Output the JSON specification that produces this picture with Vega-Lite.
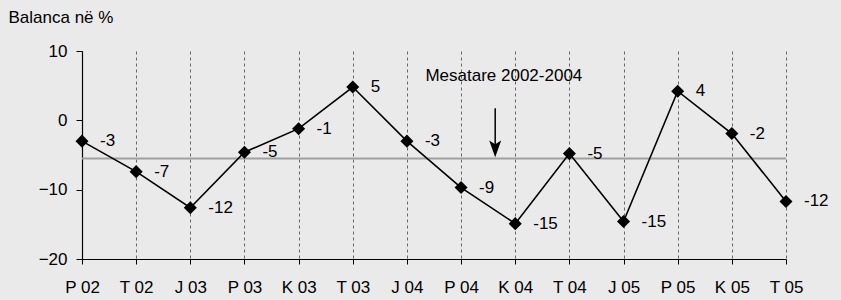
{
  "$schema": "https://vega.github.io/schema/vega-lite/v6.json",
  "autosize": "none",
  "width": 704,
  "height": 208,
  "padding": {"left": 82, "top": 51, "right": 55, "bottom": 41},
  "background": "#EAEAEA",
  "config": {
    "view": {"stroke": null},
    "font": "Liberation Sans",
    "axis": {"labelFont": "Liberation Sans", "titleFont": "Liberation Sans"}
  },
  "datasets": {
    "series": [
      {"i": 0, "q": "P 02", "v": -3.0, "label": "-3"},
      {"i": 1, "q": "T 02", "v": -7.4, "label": "-7"},
      {"i": 2, "q": "J 03", "v": -12.6, "label": "-12"},
      {"i": 3, "q": "P 03", "v": -4.6, "label": "-5"},
      {"i": 4, "q": "K 03", "v": -1.2, "label": "-1"},
      {"i": 5, "q": "T 03", "v": 4.8, "label": "5"},
      {"i": 6, "q": "J 04", "v": -3.0, "label": "-3"},
      {"i": 7, "q": "P 04", "v": -9.7, "label": "-9"},
      {"i": 8, "q": "K 04", "v": -14.9, "label": "-15"},
      {"i": 9, "q": "T 04", "v": -4.8, "label": "-5"},
      {"i": 10, "q": "J 05", "v": -14.6, "label": "-15"},
      {"i": 11, "q": "P 05", "v": 4.2, "label": "4"},
      {"i": 12, "q": "K 05", "v": -1.9, "label": "-2"},
      {"i": 13, "q": "T 05", "v": -11.7, "label": "-12"}
    ],
    "mean": [{"x0": 0, "x1": 13, "m": -5.5}],
    "arrow": [{"ax": 7.63, "top": 1.74, "bottom": -4.8, "head": -4.13, "txt": "Mesatare 2002-2004", "tx": 7.79, "ty": 6.35}]
  },
  "layer": [
    {
      "data": {"name": "mean"},
      "mark": {"type": "rule", "color": "#A0A0A0", "strokeWidth": 2},
      "encoding": {
        "x": {"field": "x0", "type": "quantitative", "scale": {"domain": [0, 13], "nice": false, "zero": false},
          "axis": {
            "values": [0,1,2,3,4,5,6,7,8,9,10,11,12,13],
            "labelExpr": "['P 02','T 02','J 03','P 03','K 03','T 03','J 04','P 04','K 04','T 04','J 05','P 05','K 05','T 05'][datum.value]",
            "title": null,
            "grid": true, "gridDash": [3, 3], "gridColor": "#666666", "gridWidth": 1,
            "domainColor": "#000000", "domainWidth": 1.2,
            "tickColor": "#000000", "tickSize": 5, "tickWidth": 1,
            "labelFontSize": 17, "labelColor": "#000000", "labelPadding": 15,
            "labelFlush": false
          }
        },
        "x2": {"field": "x1"},
        "y": {"field": "m", "type": "quantitative", "scale": {"domain": [-20, 10], "nice": false},
          "axis": {
            "values": [-20, -10, 0, 10],
            "grid": false,
            "title": "Balanca në %",
            "titleAngle": 0, "titleX": -74, "titleY": -34, "titleAlign": "left", "titleBaseline": "middle",
            "titleFontSize": 17, "titleFontWeight": "normal", "titleColor": "#000000",
            "domainColor": "#000000", "domainWidth": 1.2,
            "tickColor": "#000000", "tickSize": 6, "tickWidth": 1,
            "labelFontSize": 17, "labelColor": "#000000", "labelPadding": 9
          }
        }
      }
    },
    {
      "data": {"name": "series"},
      "mark": {"type": "line", "color": "#000000", "strokeWidth": 1.6},
      "encoding": {
        "x": {"field": "i", "type": "quantitative"},
        "y": {"field": "v", "type": "quantitative"}
      }
    },
    {
      "data": {"name": "series"},
      "mark": {"type": "point", "shape": "diamond", "filled": true, "color": "#000000", "size": 170, "opacity": 1},
      "encoding": {
        "x": {"field": "i", "type": "quantitative"},
        "y": {"field": "v", "type": "quantitative"}
      }
    },
    {
      "data": {"name": "series"},
      "mark": {"type": "text", "align": "left", "baseline": "middle", "dx": 18, "fontSize": 17, "color": "#000000"},
      "encoding": {
        "x": {"field": "i", "type": "quantitative"},
        "y": {"field": "v", "type": "quantitative"},
        "text": {"field": "label"}
      }
    },
    {
      "data": {"name": "arrow"},
      "mark": {"type": "rule", "color": "#000000", "strokeWidth": 1.5},
      "encoding": {
        "x": {"field": "ax", "type": "quantitative"},
        "y": {"field": "top", "type": "quantitative"},
        "y2": {"field": "bottom"}
      }
    },
    {
      "data": {"name": "arrow"},
      "mark": {"type": "point", "shape": "M-1,-1.4L0,1.4L1,-1.4L0,-0.8Z", "filled": true, "color": "#000000", "size": 144, "opacity": 1},
      "encoding": {
        "x": {"field": "ax", "type": "quantitative"},
        "y": {"field": "head", "type": "quantitative"}
      }
    },
    {
      "data": {"name": "arrow"},
      "mark": {"type": "text", "align": "center", "baseline": "middle", "fontSize": 17, "color": "#000000"},
      "encoding": {
        "x": {"field": "tx", "type": "quantitative"},
        "y": {"field": "ty", "type": "quantitative"},
        "text": {"field": "txt"}
      }
    }
  ]
}
